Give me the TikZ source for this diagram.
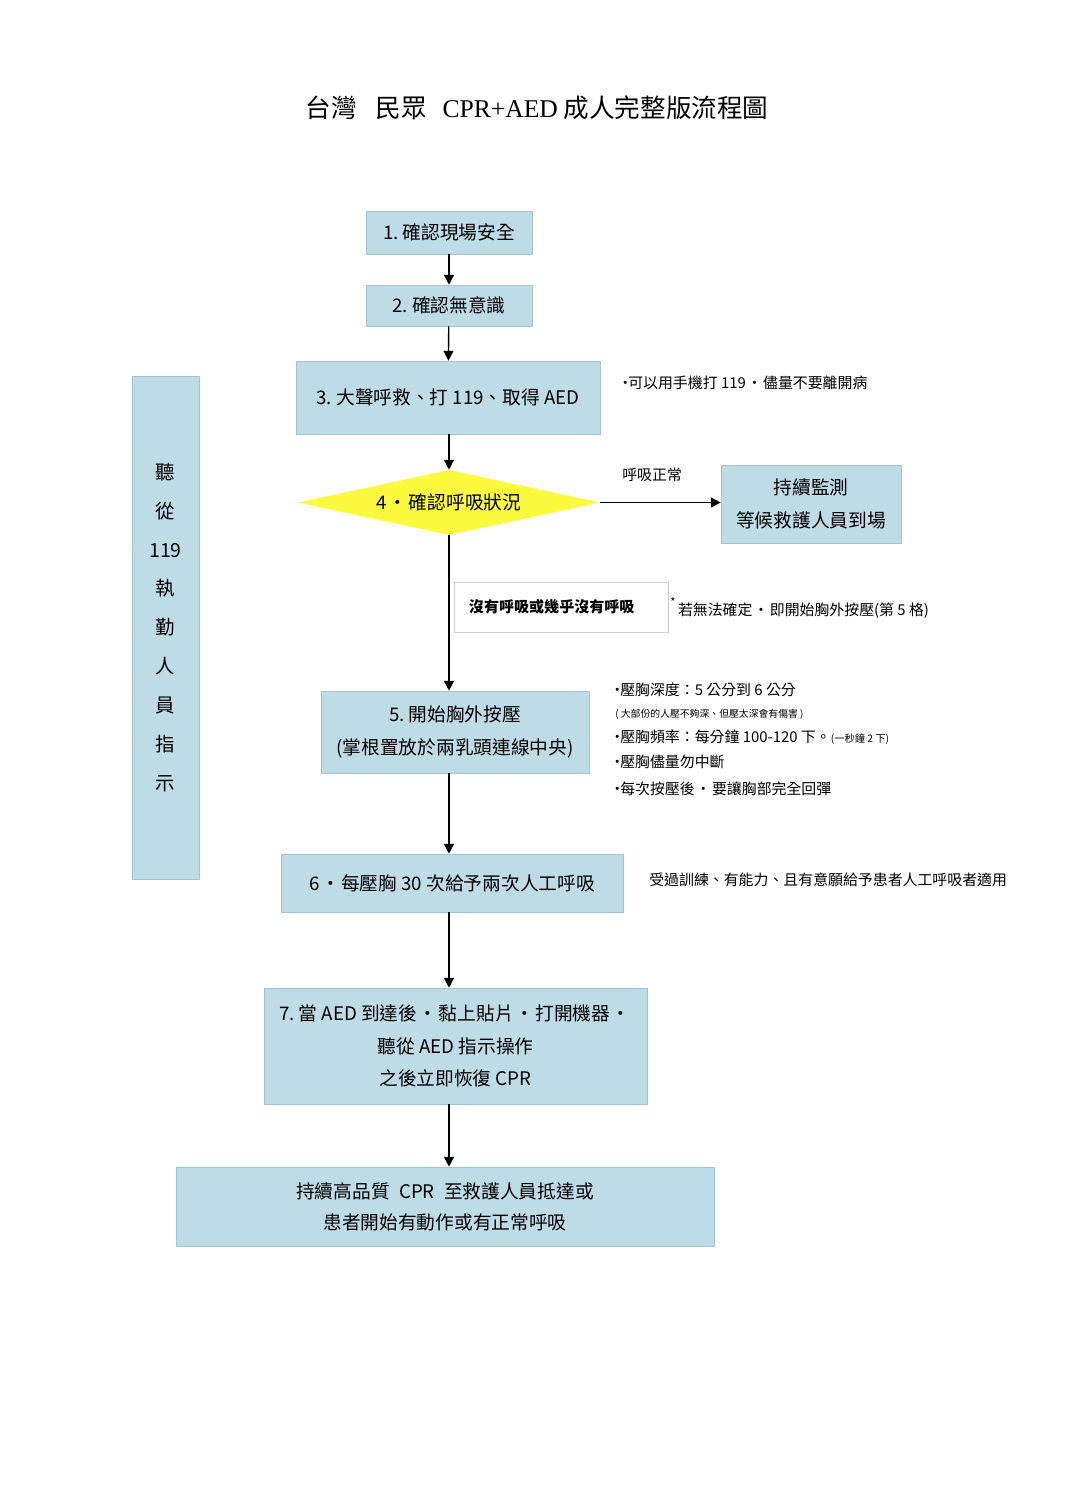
\documentclass[tikz,border=0pt]{standalone}
\usepackage{fontspec}
\setmainfont{Noto Sans CJK TC}
\newfontfamily\titlelatin{Liberation Serif}
\usepackage{xcolor}
\usepackage{tikz}
\usetikzlibrary{shapes.geometric, arrows.meta, calc}

\definecolor{boxfill}{RGB}{190,220,230}
\definecolor{boxline}{RGB}{165,195,210}
\definecolor{checkfill}{RGB}{252,250,60}
\definecolor{noteline}{RGB}{205,205,205}
\newcommand{\fs}[2]{\fontsize{#1pt}{#2pt}\selectfont}
\newcommand{\bul}{\kern-0.3em•\kern-0.3em}
\newcommand{\mdot}{\kern0.08em·\kern0.08em}

\begin{document}
\begin{tikzpicture}[x=0.025cm, y=-0.025cm,
		>={Triangle[length=7pt,width=7pt]},
		flow/.style={->, line width=1pt},
		stepbox/.style={draw=boxline, fill=boxfill, align=center, inner sep=0pt, font=\fs{13.3}{23}},
		note/.style={anchor=west, inner sep=0pt, font=\fs{10.6}{14}}]
	\useasboundingbox (0,0) rectangle (1084,1512);
	\fill[white] (0,0) rectangle (1084,1512);
	% title
	\node[font=\fs{18.2}{22}] (title) at (537,108)
	{台灣\hspace{0.75em}民眾\hspace{0.6em}{\titlelatin CPR+AED} 成人完整版流程圖};
	% main column
	\node[stepbox, minimum width=4.15cm, minimum height=1.075cm] (s1) at (449,232.5) {1.\ 確認現場安全};
	\node[stepbox, minimum width=4.15cm, minimum height=1.025cm] (s2) at (449,305.5) {2.\ 確認無意識};
	\node[stepbox, minimum width=7.6cm, minimum height=1.825cm] (s3) at (448,397.5) {3.\ 大聲呼救、打 119、取得 AED};
	\node[diamond, fill=checkfill, inner sep=0pt, aspect=4.65, minimum width=7.55cm, minimum height=1.625cm,
	font=\fs{13.3}{16}] (chk) at (449,502.5) {4\mdot 確認呼吸狀況};
	\node[stepbox, minimum width=4.5cm, minimum height=1.95cm] (watch) at (811,504) {持續監測\\等候救護人員到場};
	\node[draw=noteline, fill=white, minimum width=5.35cm, minimum height=1.25cm, inner sep=0pt,
	font=\bfseries\fs{10.7}{14}] (nobreath) at (561,607) {\makebox[4.6cm][l]{沒有呼吸或幾乎沒有呼吸}};
	\node[stepbox, minimum width=6.7cm, minimum height=2.05cm] (s5) at (455,732) {5.\ 開始胸外按壓\\(掌根置放於兩乳頭連線中央)};
	\node[stepbox, minimum width=8.55cm, minimum height=1.45cm] (s6) at (452,883) {6\mdot 每壓胸 30 次給予兩次人工呼吸};
	\node[stepbox, minimum width=9.575cm, minimum height=2.9cm] (s7) at (455.5,1046)
	{7.\ 當 AED 到達後\mdot 黏上貼片\mdot 打開機器\mdot\\聽從 AED 指示操作\\之後立即恢復 CPR};
	\node[stepbox, minimum width=13.45cm, minimum height=1.975cm, font=\fs{13.3}{22}] (s8) at (445,1206.5)
	{持續高品質\enspace CPR\enspace 至救護人員抵達或\\患者開始有動作或有正常呼吸};
	% side bar
	\node[stepbox, minimum width=1.675cm, minimum height=12.575cm, font=\fs{13.8}{27.7}] (side) at (165.5,627.5)
	{聽\\從\\119\\執\\勤\\人\\員\\指\\示};
	% notes
	\node[note] (n3) at (622,383) {\bul 可以用手機打 119\mdot 儘量不要離開病};
	\node[note] (normal) at (622,475) {呼吸正常};
	\node[note] (unsure) at (670,608) {\raisebox{1.2ex}{\fs{8}{9}*}\,若無法確定\mdot 即開始胸外按壓(第 5 格)};
	\node[note] (c1) at (614,690) {\bul 壓胸深度：5 公分到 6 公分};
	\node[note, font=\fs{7}{9}] (c2) at (615,714) {( 大部份的人壓不夠深、但壓太深會有傷害 )};
	\node[note] (c3) at (614,737) {\bul 壓胸頻率：每分鐘 100-120 下。{\fs{7.3}{9}(一秒鐘 2 下)}};
	\node[note] (c4) at (614,762) {\bul 壓胸儘量勿中斷};
	\node[note] (c5) at (614,789) {\bul 每次按壓後\mdot 要讓胸部完全回彈};
	\node[note] (n6) at (649,880) {受過訓練、有能力、且有意願給予患者人工呼吸者適用};
	% connectors
	\draw[flow] (s1) -- (s2);
	\draw[flow] (s2) -- (s3);
	\draw[flow] (s3.south -| chk) -- (chk.north);
	\draw[flow] (chk.east) -- (chk.east -| watch.west);
	\draw[flow] (chk.south) -- (chk.south |- s5.north);
	\draw[flow] (s5.south -| chk) -- (s6.north -| chk);
	\draw[flow] (s6.south -| chk) -- (s7.north -| chk);
	\draw[flow] (s7.south -| chk) -- (s8.north -| chk);
\end{tikzpicture}
\end{document}
